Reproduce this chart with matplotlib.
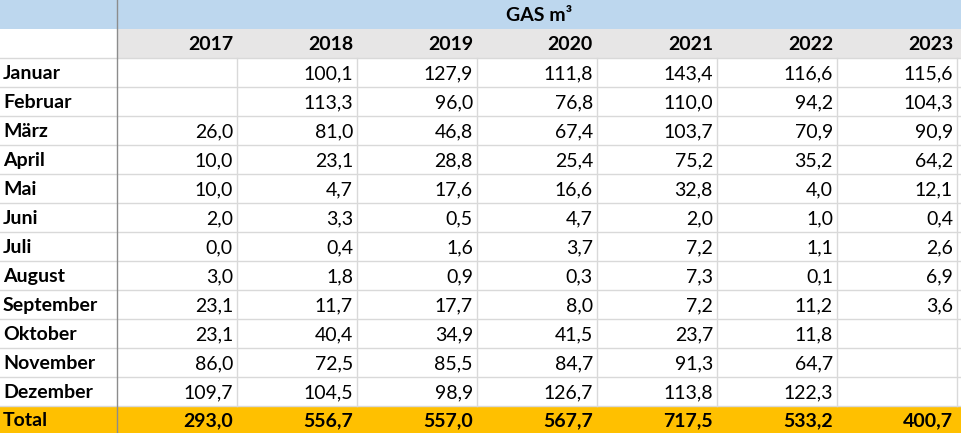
import matplotlib
matplotlib.use('Agg')
import matplotlib.pyplot as plt
from matplotlib.patches import Rectangle

# Data
title = 'GAS m³'
years = ['2017', '2018', '2019', '2020', '2021', '2022', '2023']
months = ['Januar', 'Februar', 'März', 'April', 'Mai', 'Juni', 'Juli',
          'August', 'September', 'Oktober', 'November', 'Dezember']
v2017 = [None, None, 26.0, 10.0, 10.0, 2.0, 0.0, 3.0, 23.1, 23.1, 86.0, 109.7]
v2018 = [100.1, 113.3, 81.0, 23.1, 4.7, 3.3, 0.4, 1.8, 11.7, 40.4, 72.5, 104.5]
v2019 = [127.9, 96.0, 46.8, 28.8, 17.6, 0.5, 1.6, 0.9, 17.7, 34.9, 85.5, 98.9]
v2020 = [111.8, 76.8, 67.4, 25.4, 16.6, 4.7, 3.7, 0.3, 8.0, 41.5, 84.7, 126.7]
v2021 = [143.4, 110.0, 103.7, 75.2, 32.8, 2.0, 7.2, 7.3, 7.2, 23.7, 91.3, 113.8]
v2022 = [116.6, 94.2, 70.9, 35.2, 4.0, 1.0, 1.1, 0.1, 11.2, 11.8, 64.7, 122.3]
v2023 = [115.6, 104.3, 90.9, 64.2, 12.1, 0.4, 2.6, 6.9, 3.6, None, None, None]
totals = [293.0, 556.7, 557.0, 567.7, 717.5, 533.2, 400.7]
columns = [v2017, v2018, v2019, v2020, v2021, v2022, v2023]

plt.rcParams['font.family'] = ['Lato', 'DejaVu Sans']

W, H = 962, 433
fig = plt.figure(figsize=(W / 100, H / 100), dpi=100)
ax = fig.add_axes([0, 0, 1, 1])
ax.set_xlim(0, W)
ax.set_ylim(H, 0)
ax.axis('off')

label_w = 117
col_w = 120
row_h = 29
n_rows = len(months)
top_data = 2 * row_h
total_y = top_data + n_rows * row_h

def fmt(v):
    return '' if v is None else f'{v:.1f}'.replace('.', ',')

# backgrounds
ax.add_patch(Rectangle((0, 0), W, row_h, color='#BDD7EE', lw=0))
ax.add_patch(Rectangle((label_w, row_h), W - label_w, row_h, color='#E7E6E6', lw=0))
ax.add_patch(Rectangle((0, total_y), W, H - total_y, color='#FFC000', lw=0))

# grid lines
grid = '#D9D9D9'
for i in range(n_rows + 1):
    ax.plot([0, W], [top_data + i * row_h] * 2, color=grid, lw=1)
for j in range(1, len(years) + 1):
    x = label_w + j * col_w
    ax.plot([x, x], [top_data, total_y], color=grid, lw=1)
ax.plot([label_w, label_w], [0, H], color='#8C8C8C', lw=1)

fs = 14
dy = 1
ax.text(label_w + (W - label_w) / 2, row_h / 2 + dy, title, ha='center',
        va='center', fontsize=fs, fontweight='bold')
for j, y in enumerate(years):
    xr = label_w + (j + 1) * col_w - 4
    ax.text(xr, row_h * 1.5 + dy, y, ha='right', va='center', fontsize=fs,
            fontweight='bold')
    for i, v in enumerate(columns[j]):
        ax.text(xr, top_data + (i + 0.5) * row_h + dy, fmt(v), ha='right',
                va='center', fontsize=fs)
    ax.text(xr, (total_y + H) / 2 + dy, fmt(totals[j]), ha='right',
            va='center', fontsize=fs, fontweight='bold')

for i, m in enumerate(months):
    ax.text(3, top_data + (i + 0.5) * row_h + dy, m, ha='left', va='center',
            fontsize=fs, fontweight='bold')
ax.text(3, (total_y + H) / 2 + dy, 'Total', ha='left', va='center',
        fontsize=fs, fontweight='bold')

fig.savefig('out.png', dpi=100)
